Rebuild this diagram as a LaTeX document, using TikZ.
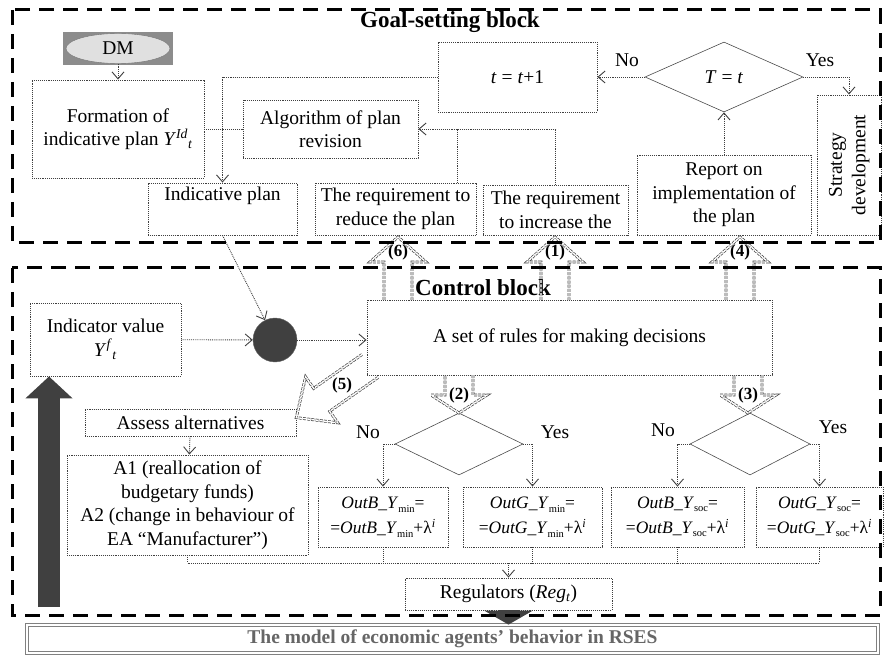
\documentclass[tikz,border=0pt]{standalone}
\usepackage{graphicx}
\usepackage{fontspec}
\setmainfont{Liberation Serif}
\usetikzlibrary{shapes.geometric,arrows.meta}

\newcommand\bodyfont{\fontsize{19.5}{23.5}\selectfont}
\newcommand\formfont{\fontsize{17.5}{21}\selectfont}
\newcommand\titlefont{\fontsize{23}{26}\selectfont\bfseries}
\newcommand\lowsub[1]{\raisebox{-3.5pt}{\fontsize{10.5}{12}\selectfont #1}}
\newcommand\outvar[2]{\textit{Out#1}\_\textit{Y}\lowsub{#2}}
% wide hollow arrow: start, angle, length, head length, label distance, label
\newcommand\hollowarrow[6]{%
  \begin{scope}[shift={#1},rotate=#2]
    \draw[hollow] (0,-14) -- (#3-#4,-14) -- (#3-#4,-28) -- (#3,0) -- (#3-#4,28) -- (#3-#4,14) -- (0,14);
    \node[numlbl] at (#5,0) {#6};
  \end{scope}}

\tikzset{
  blk/.style={draw=black!75, densely dotted, line width=0.9pt, inner sep=1pt, align=center, font=\bodyfont},
  formula/.style={blk, font=\formfont, minimum height=60pt},
  decision/.style={diamond, draw=black!70, line width=0.6pt, inner sep=0pt, font=\bodyfont},
  line/.style={draw=black!75, densely dotted, line width=0.9pt},
  arr/.style={line, -{Straight Barb[length=7pt,width=12pt]}},
  hollow/.style={draw=black!75, double, double distance=1.4pt, line width=0.7pt, dash pattern=on 3pt off 1.2pt},
  numlbl/.style={font=\fontsize{17}{19}\selectfont\bfseries, inner sep=0pt},
  blocktitle/.style={font=\titlefont, inner sep=0pt},
  blockline/.style={line width=3pt, dash pattern=on 15pt off 9pt},
  plainlbl/.style={font=\bodyfont, inner sep=0pt},
  fatarrow/.style={black!75, line width=22pt, -{Triangle[length=22pt,width=46pt]}}
}

\begin{document}
\begin{tikzpicture}[x=1pt,y=-1pt]
\useasboundingbox (0,0) rectangle (884,655);

% goal-setting block
\node[blocktitle] (goaltitle) at (450,22) {Goal-setting block};
\fill[black!45] (63,32) rectangle (173,65);
\node[ellipse, draw=black!55, fill=black!12, minimum width=104pt, minimum height=30pt, inner sep=0pt, font=\bodyfont] (dm) at (118,48.5) {DM};
\node[blk, minimum width=172pt, minimum height=98pt] (formation) at (118,129) {Formation of\\indicative plan \textit{Y}\textsuperscript{\textit{Id}}\textsubscript{\textit{t}}};
\node[blk, minimum width=175pt, minimum height=58pt] (algorithm) at (330.5,129) {Algorithm of plan\\revision};
\node[blk, minimum width=159pt, minimum height=70pt] (tnext) at (517.5,77) {\textit{t} = \textit{t}+1};
\node[decision, minimum width=158pt, minimum height=70pt, aspect=2.26] (tcheck) at (724,77) {\textit{T} = \textit{t}};
\node[blk, minimum width=64pt, minimum height=140pt] (strategy) at (849,165) {\rotatebox{90}{\begin{tabular}{@{}c@{}}Strategy\\development\end{tabular}}};
\node[blk, minimum width=149pt, minimum height=52pt] (indplan) at (222.5,209) {Indicative plan\\\strut};
\node[blk, minimum width=161pt, minimum height=52pt] (reduce) at (395.5,209) {The requirement to\\reduce the plan};
\node[blk, minimum width=145pt, minimum height=50pt] (increase) at (555.5,210) {The requirement\\to increase the};
\node[blk, minimum width=174pt, minimum height=80pt] (report) at (724,195) {Report on\\implementation of\\the plan};

\draw[arr] (dm) -- (formation);
\draw[line] (formation) -- (algorithm);
\draw[arr] (tnext.west) -| (indplan.north);
\draw[arr] (tcheck.west) -- (tnext.east);
\draw[arr] (tcheck.east) -| (strategy.north);
\draw[arr] (report) -- (tcheck.south);
\draw[arr] (increase.north) |- (algorithm.east);
\draw[line] ([xshift=-19pt]reduce.north east) -- ([xshift=-19pt]reduce.north east |- algorithm.east);
\node[plainlbl] (nolbl1) at (627,60) {No};
\node[plainlbl] (yeslbl1) at (820,60) {Yes};

% control block
\node[blocktitle] (ctrltitle) at (483,288) {Control block};
\node[blk, minimum width=151pt, minimum height=73pt] (indval) at (105.5,339.5) {Indicator value\\\textit{Y}\textsuperscript{\textit{f}}\textsubscript{\textit{t}}};
\node[circle, draw=black!60, fill=black!75, minimum size=44pt, inner sep=0pt] (junc) at (275,340) {};
\node[blk, minimum width=405pt, minimum height=75pt] (rules) at (569.5,337.5) {A set of rules for making decisions};
\node[blk, minimum width=211pt, minimum height=27pt] (assess) at (190.5,422.5) {Assess alternatives};
\node[blk, minimum width=241pt, minimum height=100pt] (actions) at (187.5,505) {A1 (reallocation of\\budgetary funds)\\A2 (change in behaviour of\\EA “Manufacturer”)};
\node[decision, minimum width=128pt, minimum height=62pt, aspect=2] (check2) at (459,444) {};
\node[decision, minimum width=120pt, minimum height=62pt, aspect=2] (check3) at (750,444) {};
\node[formula, minimum width=130pt] (outBmin) at (383,517) {\outvar{B}{min}=\\[4pt]=\outvar{B}{min}+λ\textsuperscript{\textit{i}}};
\node[formula, minimum width=139pt] (outGmin) at (532.5,517) {\outvar{G}{min}=\\[4pt]=\outvar{G}{min}+λ\textsuperscript{\textit{i}}};
\node[formula, minimum width=133pt] (outBsoc) at (677.5,517) {\outvar{B}{soc}=\\[4pt]=\outvar{B}{soc}+λ\textsuperscript{\textit{i}}};
\node[formula, minimum width=127pt] (outGsoc) at (819.5,517) {\outvar{G}{soc}=\\[4pt]=\outvar{G}{soc}+λ\textsuperscript{\textit{i}}};
\node[blk, minimum width=207pt, minimum height=32pt] (regs) at (508.5,594) {Regulators (\textit{Reg}\textsubscript{\textit{t}})};
\node[blk, draw=black!50, solid, double, line width=0.8pt, double distance=1.5pt, minimum width=851pt, minimum height=28pt, text=black!60, font=\bodyfont\bfseries] (model) at (452.5,639) {The model of economic agents’ behavior in RSES};

\draw[arr] (indval) -- (junc);
\draw[arr] (junc) -- (rules.west |- junc);
\draw[arr] (indplan.south) -- (junc);
\draw[arr] (assess) -- (actions);
\draw[arr] (check2.west) -| (outBmin.north);
\draw[arr] (check2.east) -| (outGmin.north);
\draw[arr] (check3.west) -| (outBsoc.north);
\draw[arr] (check3.east) -| (outGsoc.north);
\node[plainlbl] (nolbl2) at (368,432) {No};
\node[plainlbl] (yeslbl2) at (555,432) {Yes};
\node[plainlbl] (nolbl3) at (663,430) {No};
\node[plainlbl] (yeslbl3) at (833,427) {Yes};

\coordinate (bus) at (0,563);
\draw[line] (actions.south) -- (actions.south |- bus) -- (outGsoc.south |- bus) -- (outGsoc.south);
\foreach \f in {outBmin,outGmin,outBsoc}
  \draw[line] (\f.south) -- (\f.south |- bus);
\draw[arr] (regs.north |- bus) -- (regs.north);

\coordinate (upfoot) at (49,607);
\draw[fatarrow] (upfoot) -- (upfoot |- indval.south);
\draw[black!75, line width=20pt, -{Triangle[length=14pt,width=48pt]}] (regs.south) -- (regs.south |- model.north);

% wide arrows between the blocks
\hollowarrow{(398,300)}{90}{63}{25}{48}{(6)}
\hollowarrow{(555,300)}{90}{63}{25}{48}{(1)}
\hollowarrow{(740,300)}{90}{63}{25}{48}{(4)}
\hollowarrow{(459,375)}{-90}{38}{18}{20}{(2)}
\hollowarrow{(748,375)}{-90}{38}{18}{20}{(3)}
\hollowarrow{(370,366)}{215}{90}{31}{34}{(5)}

% block borders
\draw[blockline] (12,10) rectangle (880,243);
\draw[blockline] (12,268) rectangle (880,615);
\end{tikzpicture}
\end{document}
